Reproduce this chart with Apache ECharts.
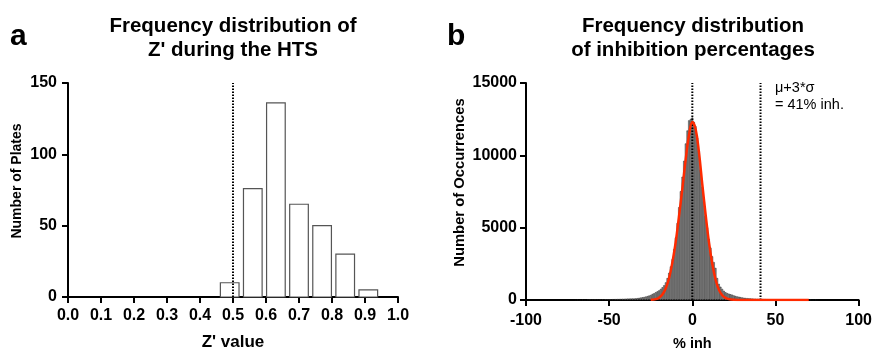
<!DOCTYPE html>
<html><head><meta charset="utf-8">
<script src="https://cdn.jsdelivr.net/npm/echarts@6/dist/echarts.min.js"></script>
<style>html,body{margin:0;padding:0;background:#fff}#c{width:875px;height:356px}</style>
</head><body><div id="c"></div>
<script>
// ---- Panel a: Z' histogram ----
const zTicks = [0,0.1,0.2,0.3,0.4,0.5,0.6,0.7,0.8,0.9,1.0];
const zBinCenters = [0.49, 0.56, 0.63, 0.70, 0.77, 0.84, 0.91];
const zCounts = [10, 76, 136, 65, 50, 30, 5];
const zBinWidth = 0.0565;
const zCutoff = 0.5;

// ---- Panel b: % inhibition histogram (bin width 1, centres -70 .. 75) ----
const inhBinStart = -70;
const inhBinWidth = 1;
const inhCounts = [
  5,5,6,6,7,8,8,9,10,11,
  12,13,14,16,18,20,22,24,26,29,
  32,35,38,42,46,50,55,60,65,70,
  74,78,82,86,88,
  90,100,110,130,150,170,190,220,250,290,
  330,400,450,520,580,650,750,860,1000,1200,
  1500,1860,2300,2800,3500,4300,5300,6400,7500,8500,
  9600,10800,11700,12400,12500,
  12600,
  12300,12000,11200,10300,9000,7800,6800,5800,5000,4200,
  3600,3000,2600,2200,1500,1100,900,750,620,520,
  460,420,380,350,300,260,230,210,180,160,
  140,120,110,100,90,
  82,76,70,65,60,55,50,46,42,38,
  35,32,29,26,24,22,20,18,16,15,
  14,13,12,11,10,9,9,8,8,7,
  7,6,6,6,5,5,5,5,5,5
];
// Gaussian fit (red curve)
const fitX = [-25,-22,-20,-18,-16,-14,-12,-10,-8,-6,-4,-2,0,2,4,6,8,10,12,14,16,18,20,22,25,30,40,50,60,70];
const fitY = [10,60,160,380,800,1500,2600,4000,5800,7700,9700,11400,12300,11800,10200,8000,5900,4000,2500,1400,700,330,150,60,15,0,0,0,0,0];
const inhTicks = [-100,-50,0,50,100];
const occTicks = [0,5000,10000,15000];
const inhMean = 0;
const inhCutoff = 41;

const FONT = 'Liberation Sans, Arial, sans-serif';
const inhData = inhCounts.map((v,i)=>[inhBinStart + i*inhBinWidth, v]);
const fitData = fitX.map((x,i)=>[x, fitY[i]]);

function axisCommon(){
  return {
    axisLine:{show:true,onZero:false,lineStyle:{color:'#000',width:2}},
    axisTick:{show:true,length:6,lineStyle:{color:'#000',width:2}},
    splitLine:{show:false},
    axisLabel:{color:'#000',fontFamily:FONT,fontWeight:'bold',fontSize:16},
    nameTextStyle:{color:'#000',fontFamily:FONT,fontWeight:'bold',fontSize:15}
  };
}
function barRender(width, fill, stroke, lw){
  return function(params, api){
    const x = api.value(0), y = api.value(1);
    const p0 = api.coord([x - width/2, y]);
    const p1 = api.coord([x + width/2, 0]);
    return {type:'rect', shape:{x:p0[0], y:p0[1], width:p1[0]-p0[0], height:p1[1]-p0[1]},
      style:{fill:fill, stroke:stroke, lineWidth:lw}};
  };
}

const chart = echarts.init(document.getElementById('c'), null, {renderer:'canvas'});
chart.setOption({
  animation:false,
  grid:[
    {left:68,right:477,top:83,bottom:53},
    {left:526,right:14,top:83,bottom:50}
  ],
  xAxis:[
    Object.assign(axisCommon(),{gridIndex:0,type:'value',min:0,max:1,interval:0.1,
      name:"Z' value",nameLocation:'middle',nameGap:37,
      nameTextStyle:Object.assign(axisCommon().nameTextStyle,{fontSize:17}),
      axisLabel:Object.assign(axisCommon().axisLabel,{margin:11,formatter:v=>v.toFixed(1)})}),
    Object.assign(axisCommon(),{gridIndex:1,type:'value',min:-100,max:100,interval:50,
      name:'% inh',nameLocation:'middle',nameGap:36,
      nameTextStyle:Object.assign(axisCommon().nameTextStyle,{fontSize:14.5}),
      axisLabel:Object.assign(axisCommon().axisLabel,{margin:13})})
  ],
  yAxis:[
    Object.assign(axisCommon(),{gridIndex:0,type:'value',min:0,max:150,interval:50,
      name:'Number of Plates',nameLocation:'middle',nameGap:44,
      nameTextStyle:Object.assign(axisCommon().nameTextStyle,{fontSize:14,padding:[0,0,0,18]}),
      axisLabel:Object.assign(axisCommon().axisLabel,{margin:11})}),
    Object.assign(axisCommon(),{gridIndex:1,type:'value',min:0,max:15000,interval:5000,
      name:'Number of Occurrences',nameLocation:'middle',nameGap:59,
      nameTextStyle:Object.assign(axisCommon().nameTextStyle,{fontSize:14.8,padding:[0,0,0,18]}),
      axisLabel:Object.assign(axisCommon().axisLabel,{margin:9,formatter:v=>String(v)})})
  ],
  series:[
    {type:'custom',xAxisIndex:0,yAxisIndex:0,renderItem:barRender(zBinWidth,'#fff','#555',1.2),
      data:zBinCenters.map((x,i)=>[x,zCounts[i]]),z:2},
    {type:'line',xAxisIndex:0,yAxisIndex:0,data:[[zCutoff,0],[zCutoff,150]],symbol:'none',
      lineStyle:{color:'#000',width:2,type:[1.5,1.5]},z:3},
    {type:'custom',xAxisIndex:1,yAxisIndex:1,renderItem:barRender(inhBinWidth*0.72,'#9a9a9a','#111',0.45),
      data:inhData,z:2},
    {type:'line',xAxisIndex:1,yAxisIndex:1,data:[[inhMean,0],[inhMean,15000]],symbol:'none',
      lineStyle:{color:'#000',width:2,type:[1.5,1.5]},z:4},
    {type:'line',xAxisIndex:1,yAxisIndex:1,data:[[inhCutoff,0],[inhCutoff,15000]],symbol:'none',
      lineStyle:{color:'#000',width:2,type:[1.5,1.5]},z:4},
    {type:'line',xAxisIndex:1,yAxisIndex:1,data:fitData,symbol:'none',smooth:0.4,
      lineStyle:{color:'#ff2a00',width:2.5},z:5}
  ],
  graphic:[
    {type:'text',left:10,top:22,style:{text:'a',fontFamily:FONT,fontWeight:'bold',fontSize:30,fill:'#000'}},
    {type:'text',left:447,top:22,style:{text:'b',fontFamily:FONT,fontWeight:'bold',fontSize:30,fill:'#000'}},
    {type:'text',x:233,y:26,style:{text:'Frequency distribution of',fontFamily:FONT,fontWeight:'bold',fontSize:20.5,fill:'#000',align:'center',verticalAlign:'middle'}},
    {type:'text',x:233,y:50,style:{text:"Z' during the HTS",fontFamily:FONT,fontWeight:'bold',fontSize:20.5,fill:'#000',align:'center',verticalAlign:'middle'}},
    {type:'text',x:693,y:26,style:{text:'Frequency distribution',fontFamily:FONT,fontWeight:'bold',fontSize:20.5,fill:'#000',align:'center',verticalAlign:'middle'}},
    {type:'text',x:693,y:50,style:{text:'of inhibition percentages',fontFamily:FONT,fontWeight:'bold',fontSize:20.5,fill:'#000',align:'center',verticalAlign:'middle'}},
    {type:'text',x:775,y:88,style:{text:'\u03bc+3*\u03c3',fontFamily:FONT,fontSize:14.5,fill:'#000',align:'left',verticalAlign:'middle'}},
    {type:'text',x:775,y:105,style:{text:'= 41% inh.',fontFamily:FONT,fontSize:14.5,fill:'#000',align:'left',verticalAlign:'middle'}}
  ]
});
</script></body></html>
